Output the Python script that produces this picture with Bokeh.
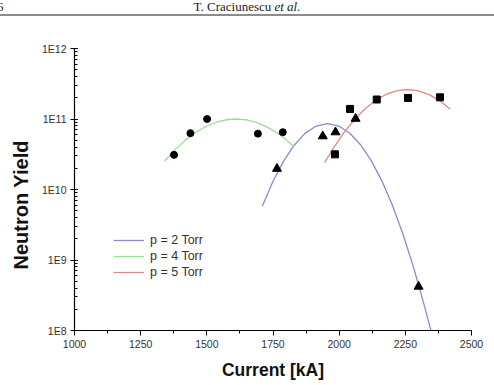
import math
from bokeh.plotting import figure
from bokeh.models import (Range1d, SingleIntervalTicker, LogTicker, Legend, LegendItem,
                          Title, Div)
from bokeh.layouts import column
from bokeh.embed import file_html
from bokeh.resources import INLINE

# ---- data ----
p2_x = [1765, 1938, 1986, 2062, 2300]
p2_y = [1.97e10, 5.7e10, 6.5e10, 1.01e11, 4.2e8]
p4_x = [1376, 1438, 1501, 1693, 1787]
p4_y = [3.1e10, 6.3e10, 1.0e11, 6.2e10, 6.5e10]
p5_x = [1984, 2041, 2142, 2260, 2381]
p5_y = [3.15e10, 1.39e11, 1.89e11, 1.99e11, 2.03e11]

fit2_x = [1710, 1750, 1790, 1830, 1870, 1910, 1956, 2000, 2040, 2080, 2120, 2160, 2200, 2240, 2280, 2320, 2350]
fit2_y = [5.85e9, 1.31e10, 2.53e10, 4.25e10, 6.2e10, 7.83e10, 8.61e10, 7.9e10, 6.29e10, 4.35e10,
          2.61e10, 1.36e10, 6.11e9, 2.39e9, 8.11e8, 2.39e8, 9.0e7]
fit4_x = [1340, 1380, 1420, 1460, 1500, 1540, 1580, 1610, 1650, 1690, 1730, 1770, 1800, 1830]
fit4_y = [2.52e10, 3.68e10, 5.06e10, 6.55e10, 7.96e10, 9.12e10, 9.84e10, 1.0e11, 9.7e10, 8.87e10,
          7.62e10, 6.17e10, 5.06e10, 4.01e10]
fit5_x = [1945, 1980, 2020, 2060, 2100, 2140, 2180, 2220, 2258, 2300, 2340, 2380, 2420]
fit5_y = [2.40e10, 3.97e10, 6.58e10, 1.00e11, 1.42e11, 1.86e11, 2.26e11, 2.53e11, 2.62e11, 2.51e11,
          2.22e11, 1.82e11, 1.38e11]

legend_labels = ["p = 2 Torr", "p = 4 Torr", "p = 5 Torr"]
y_tick_values = [1e8, 1e9, 1e10, 1e11, 1e12]
y_tick_labels = ["1E8", "1E9", "1E10", "1E11", "1E12"]
x_title = "Current [kA]"
y_title = "Neutron Yield"

C_BLUE = "#8a8ad0"
C_GREEN = "#94e094"
C_RED = "#dc8a8a"
FONT = "Liberation Sans"

header = Div(
    text='<div style="position:relative;width:494px;height:14px;">'
         '<span style="position:absolute;left:-3px;top:-2px;">6</span>'
         '<span style="position:absolute;left:0;width:494px;top:-2px;text-align:center;">'
         'T. Craciunescu <i>et al.</i></span></div>',
    width=494, height=16, margin=0,
    styles={"font-family": "Liberation Serif", "font-size": "13px", "color": "#222",
            "border-bottom": "2px solid #8c8c8c", "box-sizing": "border-box", "overflow": "hidden"},
)

p = figure(width=494, height=369, y_axis_type="log", output_backend="svg", toolbar_location=None,
           x_range=Range1d(1000, 2500), y_range=Range1d(1e8, 1e12),
           min_border_left=73, min_border_right=23, min_border_top=32, min_border_bottom=55)
p.outline_line_color = None
p.grid.visible = False
p.background_fill_color = "white"
p.border_fill_color = "white"

r2 = p.line(fit2_x, fit2_y, line_color=C_BLUE, line_width=1.3)
r4 = p.line(fit4_x, fit4_y, line_color=C_GREEN, line_width=1.3)
r5 = p.line(fit5_x, fit5_y, line_color=C_RED, line_width=1.3)
p.scatter(p4_x, p4_y, marker="circle", size=7, color="black")
p.scatter(p2_x, p2_y, marker="triangle", size=9, color="black")
p.scatter(p5_x, p5_y, marker="square", size=7, color="black")

xa = p.xaxis[0]
xa.ticker = SingleIntervalTicker(interval=250, num_minor_ticks=2)
ya = p.yaxis[0]
ya.ticker = LogTicker(num_minor_ticks=10)
ya.major_label_overrides = dict(zip(y_tick_values, y_tick_labels))
for ax in (xa, ya):
    ax.axis_line_color = "black"
    ax.axis_line_width = 1.2
    ax.major_tick_line_color = "black"
    ax.minor_tick_line_color = "black"
    ax.major_label_text_font = FONT
    ax.major_label_text_font_size = "10.5px"
    ax.major_label_text_color = "#333333"
xa.major_tick_in = 0
xa.major_tick_out = 5
xa.minor_tick_in = 0
xa.minor_tick_out = 3
xa.major_label_standoff = 4
ya.major_tick_in = 3
ya.major_tick_out = 4
ya.minor_tick_in = 3
ya.minor_tick_out = 0
ya.major_label_standoff = 4

xa.axis_label = x_title
xa.axis_label_text_font = FONT
xa.axis_label_text_font_style = "bold"
xa.axis_label_text_font_size = "17.5px"
xa.axis_label_text_color = "#111111"
xa.axis_label_standoff = 9

ytitle = Title(text=y_title, align="left", offset=61, standoff=14,
               text_font=FONT, text_font_style="bold", text_font_size="20px", text_color="#111111")
p.add_layout(ytitle, "left")

legend = Legend(items=[LegendItem(label=legend_labels[0], renderers=[r2]),
                       LegendItem(label=legend_labels[1], renderers=[r4]),
                       LegendItem(label=legend_labels[2], renderers=[r5])],
                location=(39, 50), padding=0, margin=0, spacing=0,
                glyph_width=31, glyph_height=16, label_height=16, label_standoff=6,
                label_text_font=FONT, label_text_font_size="12.5px", label_text_color="#333333",
                border_line_color=None, background_fill_alpha=0)
p.add_layout(legend)

layout = column(header, p, spacing=0)
open("out.html", "w").write(file_html(layout, INLINE))
